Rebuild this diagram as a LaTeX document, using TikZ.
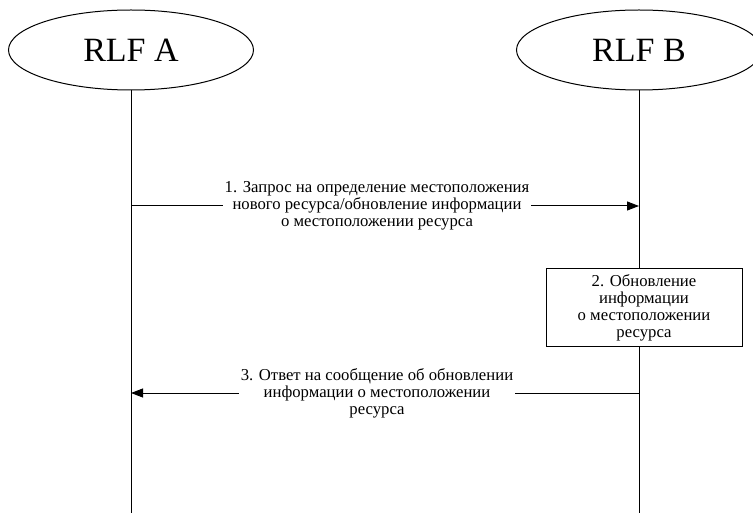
\documentclass[tikz,border=0pt]{standalone}
\usepackage{fontspec}
\setmainfont{Liberation Serif}
\usetikzlibrary{shapes.geometric,arrows.meta}
\begin{document}
\begin{tikzpicture}[x=1pt,y=-1pt,line width=1pt,
  actor/.style={draw,ellipse,minimum width=245pt,minimum height=80pt,inner sep=0pt,font=\fontsize{34}{40}\selectfont},
  msg/.style={fill=white,align=center,font=\fontsize{16.7}{17}\selectfont,inner sep=1.5pt},
  proc/.style={draw,fill=white,align=center,font=\fontsize{16.7}{17}\selectfont,minimum width=196pt,minimum height=78pt,inner sep=1pt},
  arr/.style={-{Triangle[length=12pt,width=9pt]}}]
\useasboundingbox (0,0) rectangle (753,513);
% participants
\node[actor] (A) at (131,50) {RLF A};
\node[actor] (B) at (639,50) {RLF B};
\coordinate (Aend) at (A.south |- 0,513);
\coordinate (Bend) at (B.south |- 0,513);
% lifelines
\draw (A.south) -- (Aend);
\draw (B.south) -- (Bend);
% message 1
\coordinate (a1) at (A.south |- 0,206);
\coordinate (b1) at (B.south |- 0,206);
\draw[arr] (a1) -- (b1);
\node[msg] (m1) at (377,206) {1. Запрос на определение местоположения\\нового ресурса/обновление информации\\о местоположении ресурса};
% step 2
\node[proc] (p2) at (644,308) {2. Обновление\\информации\\о местоположении\\ресурса};
% message 3
\coordinate (a3) at (A.south |- 0,393);
\coordinate (b3) at (B.south |- 0,393);
\draw[arr] (b3) -- (a3);
\node[msg] (m3) at (377,393) {3. Ответ на сообщение об обновлении\\информации о местоположении\\ресурса};
\end{tikzpicture}
\end{document}
